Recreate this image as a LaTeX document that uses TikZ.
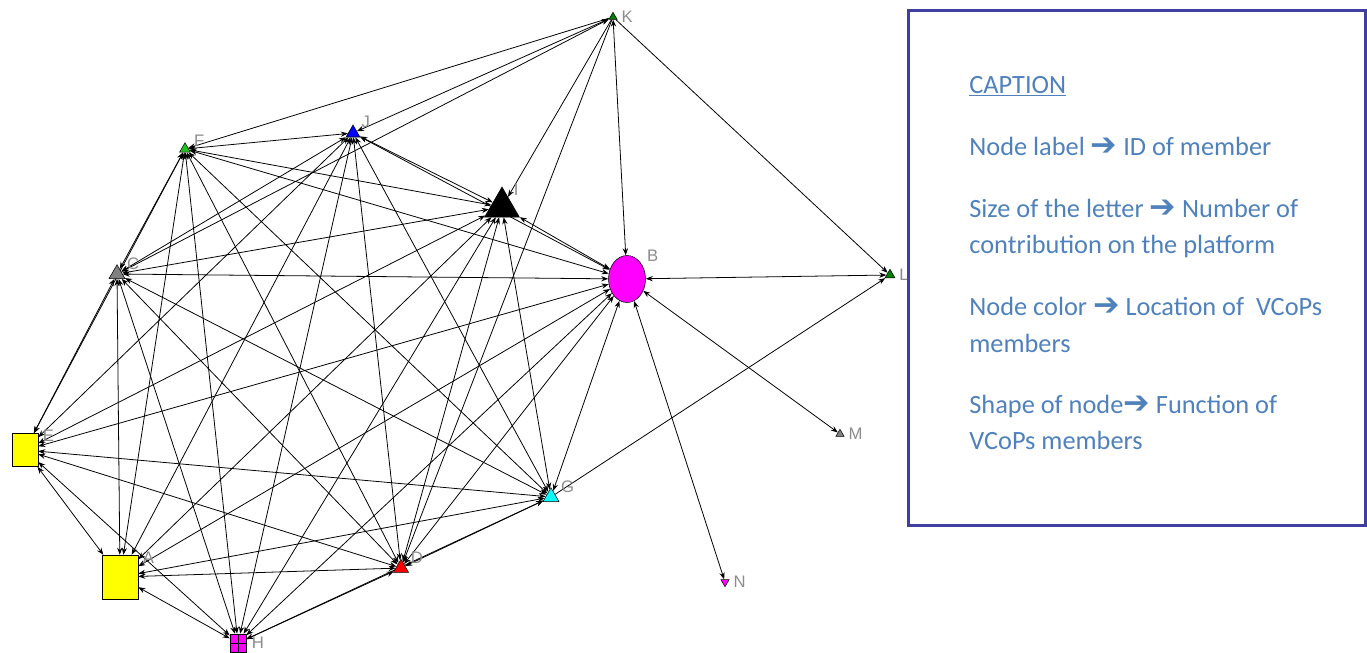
\documentclass[tikz,border=0pt]{standalone}
\usepackage{fontspec}
\setmainfont{Carlito}
\newfontfamily\arrowfont{DejaVu Sans}
\newfontfamily\lblfont{Liberation Sans}
\usetikzlibrary{shapes.geometric,arrows.meta,backgrounds}
\definecolor{capblue}{HTML}{4F81BD}
\definecolor{boxblue}{HTML}{3F3F9F}
\definecolor{lblgray}{HTML}{8C8C8C}
\definecolor{darkgreen}{HTML}{007F00}
\definecolor{litegreen}{HTML}{22C022}
\definecolor{memmagenta}{HTML}{FF00FF}
\definecolor{memcyan}{HTML}{00FFFF}
\definecolor{memyellow}{HTML}{FFFF00}
\definecolor{memred}{HTML}{FF0000}
\definecolor{memblue}{HTML}{0000FF}
\definecolor{memgray}{HTML}{808080}
\tikzset{
  member/.style={draw=black, line width=0.3pt, inner sep=0pt},
  tri/.style={member, regular polygon, regular polygon sides=3},
  box/.style={member, rectangle},
  lbl/.style={text=lblgray, font=\lblfont\fontsize{9.5}{10}\selectfont, inner sep=0.5pt, label distance=2.5pt},
  tie/.style={line width=0.45pt, {Stealth[length=4pt,width=3pt]}-{Stealth[length=4pt,width=3pt]}},
  oneway/.style={line width=0.45pt, -{Stealth[length=4pt,width=3pt]}},
  capline/.style={text=capblue, font=\fontsize{15}{20.7}\selectfont, anchor=base west, inner sep=0pt},
}
\newcommand{\capto}{{\arrowfont\fontsize{18}{20}\selectfont ➔}}
\begin{document}
\begin{tikzpicture}[x=0.02cm,y=-0.02cm]
\useasboundingbox (0,0) rectangle (1367,653);
% members of the network
\node[tri, fill=darkgreen, minimum size=0.19cm, label={[lbl]east:K}] (K) at (613,17) {};
\node[tri, fill=memblue, minimum size=0.32cm, label={[lbl]30:J}] (J) at (353,133) {};
\node[tri, fill=litegreen, minimum size=0.25cm, label={[lbl]10:F}] (F) at (185,149) {};
\node[tri, fill=black, minimum size=0.8cm, label={[lbl]45:I}] (I) at (502,207) {};
\node[tri, fill=memgray, minimum size=0.37cm, label={[lbl]20:C}] (C) at (117,274) {};
\node[member, ellipse, fill=memmagenta, minimum width=0.74cm, minimum height=0.94cm, label={[lbl]40:B}] (B) at (627,279) {};
\node[tri, fill=darkgreen, minimum size=0.23cm, label={[lbl]east:L}] (L) at (890,275) {};
\node[box, fill=memyellow, minimum width=0.52cm, minimum height=0.66cm, label={[lbl,anchor=north west,label distance=3pt]north east:E}] (E) at (25,450) {};
\node[tri, fill=memgray, minimum size=0.19cm, label={[lbl]east:M}] (M) at (840,434) {};
\node[tri, fill=memcyan, minimum size=0.37cm, label={[lbl]20:G}] (G) at (551,497) {};
\node[box, fill=memyellow, minimum width=0.72cm, minimum height=0.88cm, label={[lbl,anchor=north west,label distance=3pt]north east:A}] (A) at (120,577) {};
\node[tri, fill=memred, minimum size=0.35cm, label={[lbl]20:D}] (D) at (401,568) {};
\node[tri, fill=memmagenta, minimum size=0.19cm, rotate=180, label={[lbl]west:N}] (N) at (725,582) {};
\node[box, fill=memmagenta, minimum width=0.32cm, minimum height=0.36cm, label={[lbl]east:H},
  path picture={\draw[line width=0.3pt] (path picture bounding box.north) -- (path picture bounding box.south)
    (path picture bounding box.west) -- (path picture bounding box.east);}] (H) at (238,643) {};
% ties between members
\begin{scope}[on background layer]
\draw[tie] (A) edge (B) edge (C) edge (D) edge (E) edge (F) edge (G) edge (H) edge (I) edge (J);
\draw[tie] (B) edge (C) edge (D) edge (E) edge (F) edge (G) edge (H) edge (I) edge (J);
\draw[tie] (C) edge (D) edge (E) edge (F) edge (G) edge (H) edge (I) edge (J);
\draw[tie] (D) edge (E) edge (F) edge (G) edge (H) edge (I) edge (J);
\draw[tie] (E) edge (F) edge (G) edge (H) edge (I) edge (J);
\draw[tie] (F) edge (G) edge (H) edge (I) edge (J);
\draw[tie] (G) edge (H) edge (I) edge (J);
\draw[tie] (H) edge (I) edge (J);
\draw[tie] (I) edge (J);
\draw[tie] (K) edge (B) edge (C) edge (J);
\draw[oneway] (K) edge (I) edge (D) edge (L) edge (F);
\draw[oneway] (G) edge (L);
\draw[tie] (L) edge (B);
\draw[tie] (M) edge (B);
\draw[tie] (N) edge (B);
\end{scope}
% caption box
\node[draw=boxblue, line width=1.7pt, minimum width=9.16cm, minimum height=10.3cm] (capbox) at (1137,268) {};
\node[capline] (cap0) at (969,93) {\underline{CAPTION}};
\node[capline] (cap1) at (969,155) {Node label \capto{} ID of member};
\node[capline] (cap2) at (969,217) {Size of the letter \capto{} Number of};
\node[capline] (cap3) at (969,253) {contribution on the platform};
\node[capline] (cap4) at (969,315) {Node color \capto{} Location of\ \ VCoPs};
\node[capline] (cap5) at (969,352) {members};
\node[capline] (cap6) at (969,413) {Shape of node\capto{} Function of};
\node[capline] (cap7) at (969,449) {VCoPs members};
\end{tikzpicture}
\end{document}
